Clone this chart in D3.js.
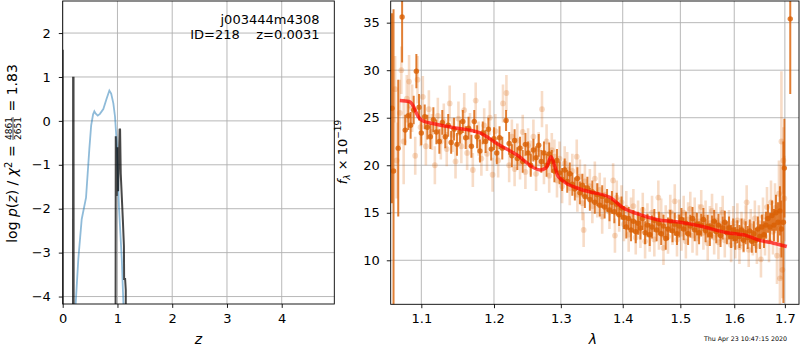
<!DOCTYPE html>
<html>
<head>
<meta charset="utf-8">
<script src="https://cdn.jsdelivr.net/npm/d3@7"></script>
<style>
body { margin:0; background:#fff; }
text { font-family:"DejaVu Sans", sans-serif; }
</style>
</head>
<body>
<script>

// ---- p(z) panel data
var zTicks = [0,1,2,3,4];
var pTicks = [-4,-3,-2,-1,0,1,2];
// chi2 based curve (blue)
var pzChi2 = [[0.22,-4.6],[0.238,-4.14],[0.285,-3.15],[0.347,-2.24],[0.426,-1.75],[0.486,-0.65],
  [0.52,-0.1],[0.555,0.15],[0.578,0.22],[0.60,0.17],[0.640,0.12],[0.68,0.16],[0.742,0.27],
  [0.80,0.5],[0.852,0.69],[0.885,0.62],[0.925,0.4],[0.955,0.1],[0.987,-0.5],[1.029,-2.0],
  [1.079,-3.15],[1.108,-4.14],[1.12,-4.6]];
// log p(z) (black)
var pzLog = [[0,1.62],[0.003,-9],[0.186,-9],[0.19,0.98],[0.198,0.98],[0.202,-9],[0.962,-9],
  [0.969,-0.35],[0.985,-1.71],[1.0,-0.6],[1.012,-1.6],[1.04,-0.18],[1.048,-0.2],[1.06,-1.2],
  [1.10,-2.3],[1.118,-2.85],[1.122,-3.6],[1.14,-3.6],[1.152,-3.85],[1.155,-9]];

// ---- spectrum panel data
var lamTicks = [1.1,1.2,1.3,1.4,1.5,1.6,1.7];
var fluxTicks = [10,15,20,25,30,35];
var modelLam  = [1.072,1.084,1.089,1.096,1.104,1.115,1.140,1.180,1.204,1.233,1.268,1.277,1.285,1.291,1.296,
  1.330,1.346,1.379,1.401,1.424,1.458,1.500,1.536,1.586,1.624,1.650,1.677,1.704];
var modelFlux = [26.8,26.7,26.3,25.1,24.6,24.4,24.0,23.4,22.3,21.1,19.5,19.7,20.9,19.8,18.8,
  17.5,17.2,16.6,15.5,14.9,14.3,14.0,13.6,12.9,12.6,12.1,11.8,11.45];

// [lambda, flux, err]
var darkPts = [[1.062,26.0,10.0],[1.064,19.4,17.0],[1.070,21.8,7.2],[1.075,35.6,4.8],[1.079,23.7,1.6],
  [1.083,25.2,1.5],[1.086,24.2,1.4],[1.090,25.8,1.5],[1.0935,29.9,1.8],[1.097,26.1,1.4],[1.100,23.4,1.3],
  [1.1045,25.1,1.3],[1.108,24.0,1.3],[1.112,23.0,1.3],[1.116,24.8,1.3],[1.120,23.5,1.3],[1.124,22.5,1.3],
  [1.128,24.5,1.3],[1.132,23.0,1.2],[1.136,24.2,1.2],[1.140,22.4,1.2],[1.144,23.8,1.2],[1.148,22.2,1.2],
  [1.152,23.5,1.2],[1.156,24.6,1.2],[1.160,22.9,1.2],[1.164,23.9,1.2],[1.168,22.0,1.2],[1.172,24.6,1.2],
  [1.176,23.0,1.2],[1.180,21.5,1.2],[1.184,23.4,1.2],[1.188,22.5,1.2],[1.192,23.8,1.2],[1.196,21.7,1.2],
  [1.200,22.8,1.2],[1.204,21.3,1.2],[1.208,22.9,1.2],[1.212,21.8,1.2],[1.2175,24.7,1.1],[1.222,22.3,1.2],
  [1.226,21.0,1.2],[1.230,22.6,1.2],[1.234,20.7,1.2],[1.238,21.8,1.2],[1.242,20.4,1.2],[1.246,22.2,1.2],
  [1.250,21.3,1.2],[1.254,20.0,1.2],[1.258,21.6,1.2],[1.262,20.8,1.2],[1.266,22.1,1.2],[1.270,20.4,1.2],
  [1.274,21.3,1.2],[1.278,20.0,1.2],[1.282,21.2,1.2],[1.286,20.4,1.2],[1.290,19.4,1.2],[1.294,20.5,1.2],
  [1.298,19.2,1.2],[1.302,18.5,1.2],[1.306,19.5,1.2],[1.310,18.3,1.2],[1.314,19.1,1.2],[1.318,18.0,1.2],
  [1.322,17.5,1.2],[1.326,18.6,1.2],[1.330,17.1,1.2],[1.334,17.9,1.2],[1.338,16.7,1.2],[1.342,17.6,1.2],
  [1.346,16.4,1.2],[1.350,17.2,1.2],[1.354,16.1,1.2],[1.358,16.9,1.2],[1.362,15.8,1.2],[1.366,16.7,1.2],
  [1.370,15.6,1.2],[1.374,16.3,1.2],[1.378,15.3,1.2],[1.382,16.1,1.2],[1.386,15.1,1.2],[1.390,15.9,1.2],
  [1.394,14.8,1.2],[1.398,15.5,1.2],[1.402,14.5,1.2],[1.406,13.5,1.2],[1.410,14.4,1.2],[1.414,13.2,1.2],
  [1.418,14.1,1.2],[1.422,13.0,1.2],[1.426,13.9,1.2],[1.430,13.4,1.2],[1.434,14.4,1.2],[1.438,12.9,1.2],
  [1.442,13.7,1.2],[1.446,12.7,1.2],[1.450,13.5,1.2],[1.454,14.2,1.2],[1.458,13.2,1.2],[1.462,13.9,1.2],
  [1.466,12.8,1.2],[1.470,13.6,1.2],[1.474,12.3,1.2],[1.478,13.3,1.2],[1.482,14.1,1.2],[1.486,13.1,1.2],
  [1.490,13.8,1.2],[1.494,12.8,1.2],[1.498,13.6,1.2],[1.502,14.3,1.2],[1.506,13.3,1.2],[1.510,13.9,1.2],
  [1.514,12.8,1.2],[1.518,13.6,1.2],[1.522,14.4,1.2],[1.526,13.2,1.2],[1.530,13.8,1.2],[1.534,12.9,1.2],
  [1.538,13.7,1.2],[1.542,14.3,1.2],[1.546,13.1,1.2],[1.550,13.6,1.2],[1.554,12.7,1.2],[1.558,13.5,1.2],
  [1.562,14.1,1.2],[1.566,13.0,1.2],[1.570,13.7,1.2],[1.574,12.6,1.2],[1.578,13.4,1.2],[1.582,14.0,1.2],
  [1.586,12.9,1.2],[1.590,13.4,1.2],[1.594,12.5,1.2],[1.598,13.2,1.2],[1.602,12.3,1.2],[1.606,13.0,1.2],
  [1.610,12.5,1.2],[1.614,13.2,1.2],[1.618,12.1,1.2],[1.622,12.9,1.2],[1.626,12.4,1.2],[1.630,13.1,1.2],
  [1.634,12.0,1.2],[1.638,12.8,1.3],[1.642,12.1,1.3],[1.646,13.3,1.3],[1.650,12.5,1.3],[1.654,13.5,1.3],
  [1.658,12.7,1.4],[1.662,13.7,1.4],[1.666,14.4,1.5],[1.670,13.5,1.5],[1.674,14.7,1.6],[1.678,13.7,1.7],
  [1.682,15.0,1.9],[1.686,14.0,2.1],[1.690,15.2,2.6],[1.693,13.3,3.0],[1.697,14.0,8.5],[1.699,19.7,5.2],
  [1.711,35.4,7.9]];

var palePts = [[1.066,28.0,3.5],[1.068,20.5,4.0],[1.072,25.5,3.5],[1.074,30.0,2.5],[1.077,22.5,4.5],
  [1.081,27.0,2.5],[1.084,28.8,2.8],[1.088,26.0,2.5],[1.092,21.0,2.0],[1.095,29.0,2.5],[1.099,24.0,2.0],
  [1.102,27.2,2.2],[1.106,22.0,2.0],[1.110,25.9,2.0],[1.114,23.5,1.9],[1.118,20.0,2.0],[1.122,25.2,1.9],
  [1.126,22.5,1.9],[1.130,24.6,1.9],[1.134,21.7,1.8],[1.138,26.5,1.9],[1.142,23.2,1.8],[1.146,20.4,1.8],
  [1.150,24.9,1.8],[1.154,22.0,1.8],[1.158,25.8,1.8],[1.162,21.3,1.8],[1.166,23.7,1.8],[1.170,19.5,1.8],
  [1.174,26.8,1.9],[1.178,22.8,1.8],[1.182,20.7,1.8],[1.186,24.2,1.8],[1.190,21.2,1.8],[1.194,25.0,1.8],
  [1.198,19.0,1.8],[1.202,23.6,1.8],[1.206,20.5,1.8],[1.213,26.5,2.0],[1.218,27.6,1.9],[1.222,20.0,1.8],
  [1.226,23.0,1.8],[1.230,19.6,1.8],[1.234,22.6,1.8],[1.238,20.3,1.8],[1.242,23.5,1.8],[1.246,19.3,1.8],
  [1.250,22.1,1.8],[1.254,20.8,1.8],[1.258,23.0,1.8],[1.262,19.1,1.8],[1.266,21.7,1.8],[1.271,25.9,1.9],
  [1.274,19.8,1.8],[1.278,22.5,1.8],[1.282,18.9,1.8],[1.286,21.6,1.8],[1.290,20.9,1.8],[1.294,18.4,1.8],
  [1.298,20.7,1.8],[1.302,17.8,1.8],[1.306,20.2,1.8],[1.310,19.6,1.8],[1.314,17.6,1.8],[1.318,19.4,1.8],
  [1.325,20.9,1.8],[1.326,16.9,1.8],[1.330,18.8,1.8],[1.334,16.0,1.8],[1.336,13.2,1.8],[1.338,18.3,1.8],
  [1.346,17.8,1.8],[1.350,15.7,1.8],[1.354,18.6,1.8],[1.358,16.3,1.8],[1.362,17.4,1.8],[1.366,14.6,1.8],
  [1.370,16.9,1.8],[1.378,15.1,1.8],[1.384,18.4,1.8],[1.387,12.6,1.8],[1.390,16.6,1.8],[1.394,14.8,1.8],
  [1.398,16.1,1.8],[1.402,13.8,1.8],[1.406,15.5,1.8],[1.410,12.7,1.8],[1.414,14.8,1.8],[1.418,15.7,1.8],
  [1.422,12.4,1.8],[1.426,14.5,1.8],[1.430,13.1,1.8],[1.434,15.3,1.8],[1.438,12.0,1.8],[1.442,14.2,1.8],
  [1.446,12.7,1.8],[1.450,15.0,1.8],[1.454,12.2,1.8],[1.461,16.6,1.8],[1.462,12.9,1.8],[1.466,14.7,1.8],
  [1.470,11.3,1.8],[1.474,14.0,1.8],[1.478,12.5,1.8],[1.482,15.1,1.8],[1.486,13.4,1.8],[1.490,16.2,1.8],
  [1.494,12.2,1.8],[1.498,14.6,1.8],[1.502,12.8,1.8],[1.506,15.0,1.8],[1.510,12.0,1.8],[1.514,14.3,1.8],
  [1.518,15.4,1.8],[1.522,12.6,1.8],[1.526,14.8,1.8],[1.530,12.3,1.8],[1.534,14.1,1.8],[1.538,15.6,1.8],
  [1.542,12.9,1.8],[1.546,14.5,1.8],[1.550,11.8,1.8],[1.554,13.9,1.8],[1.558,15.2,1.8],[1.562,12.4,1.8],
  [1.566,14.2,1.8],[1.570,11.9,1.8],[1.574,13.8,1.8],[1.578,15.0,1.8],[1.582,12.1,1.8],[1.590,13.5,1.8],
  [1.594,11.6,1.8],[1.598,13.9,1.8],[1.602,12.0,1.8],[1.606,14.2,1.8],[1.610,11.4,1.8],[1.614,13.3,1.8],
  [1.618,12.6,1.8],[1.622,14.0,1.8],[1.624,16.1,1.8],[1.628,11.1,1.8],[1.632,13.6,1.8],[1.636,12.3,1.8],
  [1.640,14.4,1.9],[1.644,11.5,1.9],[1.648,13.9,1.9],[1.652,10.1,1.9],[1.656,14.6,2.0],[1.660,12.5,2.0],
  [1.664,15.6,2.1],[1.668,12.0,2.2],[1.672,16.1,2.3],[1.676,13.0,2.4],[1.680,15.5,2.6],[1.684,10.5,3.0],
  [1.688,17.0,3.5],[1.690,8.1,3.2],[1.692,14.0,6.0],[1.693,22.5,7.4],[1.695,9.0,3.0],[1.697,20.5,3.5],
  [1.699,16.5,4.5]];

var objName = "j003444m4308";
var objInfo = "ID=218    z=0.0031";
var stamp = "Thu Apr 23 10:47:15 2020";

var W = 800, H = 350;
var orange = "#d95f02";
var svg = d3.select("body").append("svg").attr("width", W).attr("height", H);

function styleAxis(g, fs) {
  g.select(".domain").remove();
  g.selectAll(".tick line").attr("stroke", "#000").attr("stroke-width", 0.9);
  g.selectAll(".tick text").attr("font-size", fs).attr("fill", "#000")
    .attr("font-family", "'DejaVu Sans', sans-serif");
}

function panel(id, x, y, xt, yt) {
  var x0 = x.range()[0], x1 = x.range()[1], y0 = y.range()[1], y1 = y.range()[0];
  svg.append("clipPath").attr("id", id).append("rect")
    .attr("x", x0).attr("y", y0).attr("width", x1 - x0).attr("height", y1 - y0);
  var grid = svg.append("g");
  grid.selectAll(".gx").data(xt).enter().append("line")
    .attr("x1", d => x(d)).attr("x2", d => x(d)).attr("y1", y0).attr("y2", y1)
    .attr("stroke", "#b0b0b0").attr("stroke-width", 0.9);
  grid.selectAll(".gy").data(yt).enter().append("line")
    .attr("x1", x0).attr("x2", x1).attr("y1", d => y(d)).attr("y2", d => y(d))
    .attr("stroke", "#b0b0b0").attr("stroke-width", 0.9);
  return svg.append("g").attr("clip-path", "url(#" + id + ")");
}

function frame(x, y, fmtX, fmtY, fs, padY) {
  var x0 = x.range()[0], x1 = x.range()[1], y0 = y.range()[1], y1 = y.range()[0];
  var gx = svg.append("g").attr("transform", "translate(0," + y1 + ")")
    .call(d3.axisBottom(x).tickValues(fmtX.v).tickFormat(fmtX.f).tickSize(3.9).tickPadding(6));
  styleAxis(gx, fs);
  var gy = svg.append("g").attr("transform", "translate(" + x0 + ",0)")
    .call(d3.axisLeft(y).tickValues(fmtY.v).tickFormat(fmtY.f).tickSize(3.9).tickPadding(padY));
  styleAxis(gy, fs);
  svg.append("rect").attr("x", x0).attr("y", y0).attr("width", x1 - x0).attr("height", y1 - y0)
    .attr("fill", "none").attr("stroke", "#000").attr("stroke-width", 0.9);
}

// ---------- left: p(z)
var xz = d3.scaleLinear().domain([0, 4.96]).range([62.7, 334.3]);
var yp = d3.scaleLinear().domain([-4.17, 2.73]).range([304, 1]);
var gL = panel("clipL", xz, yp, zTicks, pTicks);
var lz = d3.line().x(d => xz(d[0])).y(d => yp(d[1]));
gL.append("path").datum(pzChi2).attr("d", lz).attr("fill", "none")
  .attr("stroke", "#1f77b4").attr("stroke-opacity", 0.5).attr("stroke-width", 1.8);
gL.append("path").datum(pzLog).attr("d", lz).attr("fill", "none")
  .attr("stroke", "#000").attr("stroke-opacity", 0.72).attr("stroke-width", 2);
frame(xz, yp, {v: zTicks, f: d3.format("d")}, {v: pTicks, f: d3.format("d")}, 13, 8);

svg.append("text").attr("x", 319.5).attr("y", 24).attr("text-anchor", "end")
  .attr("font-size", 13).text(objName);
svg.append("text").attr("x", 319.5).attr("y", 39).attr("text-anchor", "end")
  .attr("font-size", 13).style("white-space", "pre").text(objInfo);

svg.append("text").attr("x", xz(2.48)).attr("y", 344).attr("text-anchor", "middle")
  .attr("font-size", 14).attr("font-style", "italic").text("z");

// left y label, with a stacked fraction
var yl = svg.append("g").attr("transform", "translate(17,153.5) rotate(-90)");
var t1 = yl.append("text").attr("font-size", 14).style("white-space", "pre");
t1.append("tspan").text("log ");
t1.append("tspan").attr("font-style", "italic").text("p");
t1.append("tspan").text("(");
t1.append("tspan").attr("font-style", "italic").text("z");
t1.append("tspan").text(") / ");
t1.append("tspan").attr("font-style", "italic").text("χ");
t1.append("tspan").attr("font-size", 10).attr("dy", -5.5).text("2");
t1.append("tspan").attr("dy", 5.5).text(" = ");
var num = yl.append("text").attr("font-size", 9).attr("text-anchor", "middle").text("4861");
var den = yl.append("text").attr("font-size", 9).attr("text-anchor", "middle").text("2651");
var t3 = yl.append("text").attr("font-size", 14).style("white-space", "pre").text(" = 1.83");
var w1 = t1.node().getComputedTextLength();
var w2 = Math.max(num.node().getComputedTextLength(), den.node().getComputedTextLength());
var w3 = t3.node().getComputedTextLength();
var tot = w1 + w2 + 2 + w3, s0 = -tot / 2;
t1.attr("x", s0);
var fc = s0 + w1 + 1 + w2 / 2;
num.attr("x", fc).attr("y", -5.5);
den.attr("x", fc).attr("y", 3.8);
yl.append("line").attr("x1", fc - w2 / 2).attr("x2", fc + w2 / 2).attr("y1", -4).attr("y2", -4)
  .attr("stroke", "#000").attr("stroke-width", 0.7);
t3.attr("x", s0 + w1 + w2 + 2);

// ---------- right: spectrum
var xl = d3.scaleLog().domain([1.0604, 1.729]).range([390.7, 799]);
var yf = d3.scaleLinear().domain([5.37, 37.28]).range([304.3, 1]);
var gR = panel("clipR", xl, yf, lamTicks, fluxTicks);

function errPoints(data, op, bw, r) {
  var g = gR.append("g");
  g.selectAll("line").data(data).enter().append("line")
    .attr("x1", d => xl(d[0])).attr("x2", d => xl(d[0]))
    .attr("y1", d => yf(d[1] - d[2])).attr("y2", d => yf(d[1] + d[2]))
    .attr("stroke", orange).attr("stroke-opacity", op).attr("stroke-width", bw);
  g.selectAll("circle").data(data).enter().append("circle")
    .attr("cx", d => xl(d[0])).attr("cy", d => yf(d[1])).attr("r", r)
    .attr("fill", orange).attr("fill-opacity", op);
}
errPoints(palePts, 0.22, 2.6, 2.9);
errPoints(darkPts, 0.8, 2, 2.7);

gR.append("path").datum(d3.zip(modelLam, modelFlux))
  .attr("d", d3.line().curve(d3.curveMonotoneX).x(d => xl(d[0])).y(d => yf(d[1])))
  .attr("fill", "none").attr("stroke", "red").attr("stroke-opacity", 0.7)
  .attr("stroke-width", 3.5).attr("stroke-linejoin", "round");

frame(xl, yf, {v: lamTicks, f: d3.format(".1f")}, {v: fluxTicks, f: d3.format("d")}, 13, 7);

svg.append("text").attr("x", 593).attr("y", 344).attr("text-anchor", "middle")
  .attr("font-size", 14).attr("font-style", "italic").text("λ");

var yr = svg.append("text").attr("transform", "translate(347,152) rotate(-90)")
  .attr("text-anchor", "middle").attr("font-size", 13);
yr.append("tspan").attr("font-style", "italic").text("f");
yr.append("tspan").attr("font-style", "italic").attr("font-size", 9).attr("dy", 3).text("λ");
yr.append("tspan").attr("dy", -3).text(" × 10");
yr.append("tspan").attr("font-size", 9).attr("dy", -6).text("−19");

svg.append("text").attr("x", 787).attr("y", 341).attr("text-anchor", "end")
  .attr("font-size", 6.3).text(stamp);
</script>
</body>
</html>
